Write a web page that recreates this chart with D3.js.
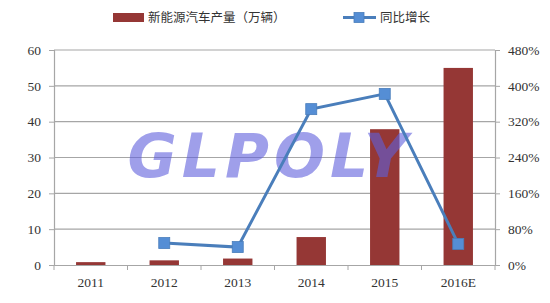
<!DOCTYPE html>
<html>
<head>
<meta charset="utf-8">
<script src="https://cdn.jsdelivr.net/npm/d3@7"></script>
<style>
  body { margin: 0; background: #fff; }
  text { font-family: "Liberation Serif", "Noto Sans CJK SC", serif; }
</style>
</head>
<body>
<div id="container"></div>
<script>
/* CONSTANTS AND GLOBALS */
const width = 550,
  height = 303,
  margin = { top: 50, bottom: 38, left: 54, right: 55 };

/* DATA */
const years = ["2011", "2012", "2013", "2014", "2015", "2016E"];
const output = [0.8, 1.3, 1.8, 7.8, 37.9, 55];        // 新能源汽车产量（万辆）
const growth = [null, 0.49, 0.40, 3.48, 3.82, 0.47];  // 同比增长
const leftTicks = [0, 10, 20, 30, 40, 50, 60];
const rightTicks = [0, 0.8, 1.6, 2.4, 3.2, 4.0, 4.8];

/* SCALES */
const xScale = d3.scaleBand()
  .domain(years)
  .range([margin.left, width - margin.right])

const yScale = d3.scaleLinear()
  .domain([0, 60])
  .range([height - margin.bottom, margin.top])

const y2Scale = d3.scaleLinear()
  .domain([0, 4.8])
  .range([height - margin.bottom, margin.top])

/* HTML ELEMENTS */
const svg = d3.select("#container")
  .append("svg")
  .attr("width", width)
  .attr("height", height)

// gridlines
svg.append("g")
  .selectAll("line")
  .data(leftTicks.slice(1))
  .join("line")
  .attr("x1", margin.left)
  .attr("x2", width - margin.right)
  .attr("y1", d => yScale(d))
  .attr("y2", d => yScale(d))
  .attr("stroke", "#a6a6a6")
  .attr("stroke-width", 1.2)

// left axis
const yAxis = svg.append("g")
  .attr("transform", `translate(${margin.left},0)`)
  .call(d3.axisLeft(yScale).tickValues(leftTicks).tickSize(5).tickPadding(8))
yAxis.select(".domain").attr("stroke", "#a6a6a6").attr("stroke-width", 1.2)
yAxis.selectAll(".tick line").attr("stroke", "#a6a6a6")
yAxis.selectAll("text").attr("font-size", 13.5).attr("fill", "#333")

// right axis
const y2Axis = svg.append("g")
  .attr("transform", `translate(${width - margin.right},0)`)
  .call(d3.axisRight(y2Scale).tickValues(rightTicks).tickSize(5).tickPadding(8)
    .tickFormat(d => Math.round(d * 100) + "%"))
y2Axis.select(".domain").attr("stroke", "#a6a6a6").attr("stroke-width", 1.2)
y2Axis.selectAll(".tick line").attr("stroke", "#a6a6a6")
y2Axis.selectAll("text").attr("font-size", 13.5).attr("fill", "#333")

// bars
svg.append("g")
  .selectAll("rect")
  .data(output)
  .join("rect")
  .attr("x", (d, i) => xScale(years[i]) + xScale.bandwidth() * 0.3)
  .attr("width", xScale.bandwidth() * 0.4)
  .attr("y", d => yScale(d))
  .attr("height", d => yScale(0) - yScale(d))
  .attr("fill", "#953735")

// bottom axis
const xAxis = svg.append("g")
  .attr("transform", `translate(0,${height - margin.bottom})`)
  .call(d3.axisBottom(xScale).tickSize(0).tickPadding(12))
xAxis.select(".domain").attr("stroke", "#a6a6a6").attr("stroke-width", 1.2)
xAxis.selectAll("text").attr("font-size", 13.5).attr("fill", "#333")
xAxis.selectAll(".sep")
  .data(years.concat(["end"]))
  .join("line")
  .attr("class", "sep")
  .attr("x1", (d, i) => margin.left + i * xScale.bandwidth())
  .attr("x2", (d, i) => margin.left + i * xScale.bandwidth())
  .attr("y1", 0)
  .attr("y2", 5)
  .attr("stroke", "#a6a6a6")

// watermark
svg.append("text")
  .attr("x", 270)
  .attr("y", 177)
  .attr("text-anchor", "middle")
  .style("font-family", "'DejaVu Sans', sans-serif")
  .attr("font-weight", "bold")
  .attr("font-style", "italic")
  .attr("font-size", 60)
  .attr("letter-spacing", 5)
  .attr("fill", "rgba(95, 95, 220, 0.6)")
  .text("GLPOLY")

// line
const lineData = growth.map((g, i) => ({ year: years[i], g })).filter(d => d.g !== null)
const line = d3.line()
  .x(d => xScale(d.year) + xScale.bandwidth() / 2)
  .y(d => y2Scale(d.g))

svg.append("path")
  .datum(lineData)
  .attr("d", line)
  .attr("fill", "none")
  .attr("stroke", "#4a7ebb")
  .attr("stroke-width", 3)

svg.append("g")
  .selectAll("rect")
  .data(lineData)
  .join("rect")
  .attr("x", d => xScale(d.year) + xScale.bandwidth() / 2 - 5.5)
  .attr("y", d => y2Scale(d.g) - 5.5)
  .attr("width", 11)
  .attr("height", 11)
  .attr("fill", "#558ed5")
  .attr("stroke", "#4a7ebb")
  .attr("stroke-width", 0.8)

// legend
const legend = svg.append("g")
legend.append("rect")
  .attr("x", 113).attr("y", 13).attr("width", 31).attr("height", 9)
  .attr("fill", "#953735")
legend.append("text")
  .attr("x", 148).attr("y", 22)
  .attr("font-size", 12.5).attr("fill", "#333")
  .style("font-family", "'Noto Sans CJK SC', sans-serif")
  .text("新能源汽车产量（万辆）")
legend.append("line")
  .attr("x1", 343).attr("x2", 376).attr("y1", 17.5).attr("y2", 17.5)
  .attr("stroke", "#4a7ebb").attr("stroke-width", 3)
legend.append("rect")
  .attr("x", 354).attr("y", 12.5).attr("width", 10).attr("height", 10)
  .attr("fill", "#558ed5").attr("stroke", "#4a7ebb").attr("stroke-width", 0.8)
legend.append("text")
  .attr("x", 380).attr("y", 22)
  .attr("font-size", 12.5).attr("fill", "#333")
  .style("font-family", "'Noto Sans CJK SC', sans-serif")
  .text("同比增长")
</script>
</body>
</html>
